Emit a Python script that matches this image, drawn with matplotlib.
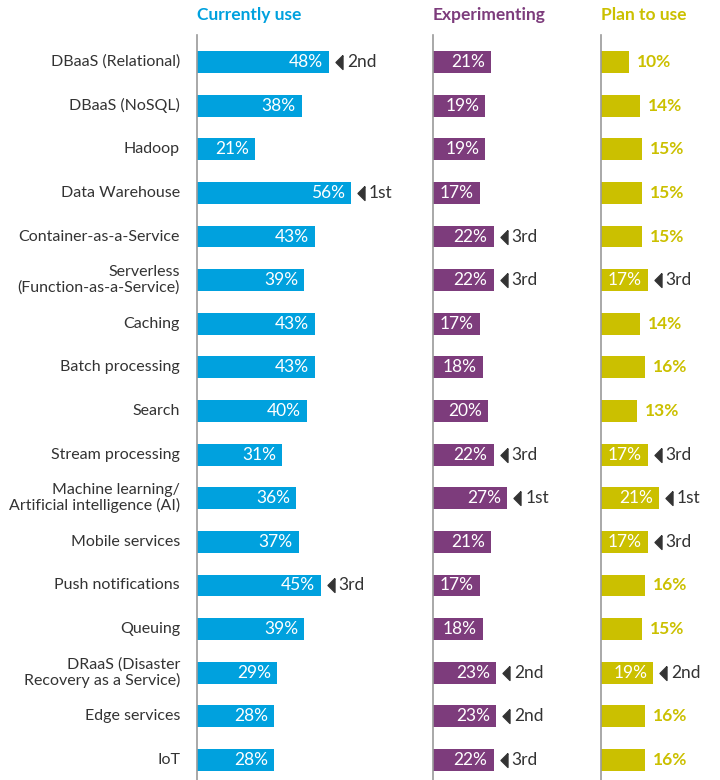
import matplotlib.pyplot as plt
from matplotlib.transforms import offset_copy

plt.rcParams['font.family'] = ['Lato', 'DejaVu Sans']

# data
categories = ['DBaaS (Relational)', 'DBaaS (NoSQL)', 'Hadoop', 'Data Warehouse',
              'Container-as-a-Service', 'Serverless\n(Function-as-a-Service)', 'Caching',
              'Batch processing', 'Search', 'Stream processing',
              'Machine learning/\nArtificial intelligence (AI)', 'Mobile services',
              'Push notifications', 'Queuing', 'DRaaS (Disaster\nRecovery as a Service)',
              'Edge services', 'IoT']
currently_use = [48, 38, 21, 56, 43, 39, 43, 43, 40, 31, 36, 37, 45, 39, 29, 28, 28]
experimenting = [21, 19, 19, 17, 22, 22, 17, 18, 20, 22, 27, 21, 17, 18, 23, 23, 22]
plan_to_use = [10, 14, 15, 15, 15, 17, 14, 16, 13, 17, 21, 17, 16, 15, 19, 16, 16]

current_ranks = {0: '2nd', 3: '1st', 12: '3rd'}
experiment_ranks = {4: '3rd', 5: '3rd', 9: '3rd', 10: '1st', 14: '2nd', 15: '2nd', 16: '3rd'}
plan_ranks = {5: '3rd', 9: '3rd', 10: '1st', 11: '3rd', 14: '2nd'}

titles = ['Currently use', 'Experimenting', 'Plan to use']
colors = ['#00a1de', '#7d3c7c', '#cbc000']

W, H = 720, 780
fig = plt.figure(figsize=(W / 100, H / 100), dpi=100)

px_per_pct = 2.75
top_px = 35
panels = [
    (197, 230, currently_use, current_ranks),
    (433, 165, experimenting, experiment_ranks),
    (601, 119, plan_to_use, plan_ranks),
]
# narrow left-pointing triangle for the rank markers
tri = [(0.5, 1), (-0.5, 0), (0.5, -1), (0.5, 1)]

n = len(categories)
for k, (left, width, values, ranks) in enumerate(panels):
    ax = fig.add_axes([left / W, 0, width / W, 1 - top_px / H])
    ax.set_xlim(0, width / px_per_pct)
    ax.set_ylim(n - 1 + 0.46, -0.62)
    ypos = list(range(n))
    ax.barh(ypos, values, height=0.5, color=colors[k])
    for side in ['top', 'right', 'bottom']:
        ax.spines[side].set_visible(False)
    ax.spines['left'].set_color('#9a9a9a')
    ax.spines['left'].set_linewidth(1.2)
    ax.set_xticks([])
    ax.set_yticks([])

    tri_trans = offset_copy(ax.transData, fig=fig, x=10, y=0, units='dots')
    for i, v in enumerate(values):
        label = '%d%%' % v
        if k < 2 or v >= 17:
            ax.annotate(label, (v, i), xytext=(-6, 0), textcoords='offset pixels',
                        ha='right', va='center', color='white', fontsize=12.5)
        else:
            ax.annotate(label, (v, i), xytext=(8, 0), textcoords='offset pixels',
                        ha='left', va='center', color=colors[k], fontsize=12.5,
                        fontweight='bold')
        if i in ranks:
            ax.plot([v], [i], marker=tri, markersize=10, color='#333333',
                    linestyle='none', transform=tri_trans, clip_on=False)
            ax.annotate(ranks[i], (v, i), xytext=(18, 0), textcoords='offset pixels',
                        ha='left', va='center', color='#333333', fontsize=12.5)

    if k == 0:
        for i, cat in enumerate(categories):
            ax.annotate(cat, (0, i), xytext=(-17, 0), textcoords='offset pixels',
                        ha='right', va='center', color='#333333', fontsize=11.5,
                        linespacing=1.1)

    fig.text(left / W, 1 - 15 / H, titles[k], ha='left', va='center',
             color=colors[k], fontsize=12.5, fontweight='bold')

fig.savefig('out.png', dpi=100)
